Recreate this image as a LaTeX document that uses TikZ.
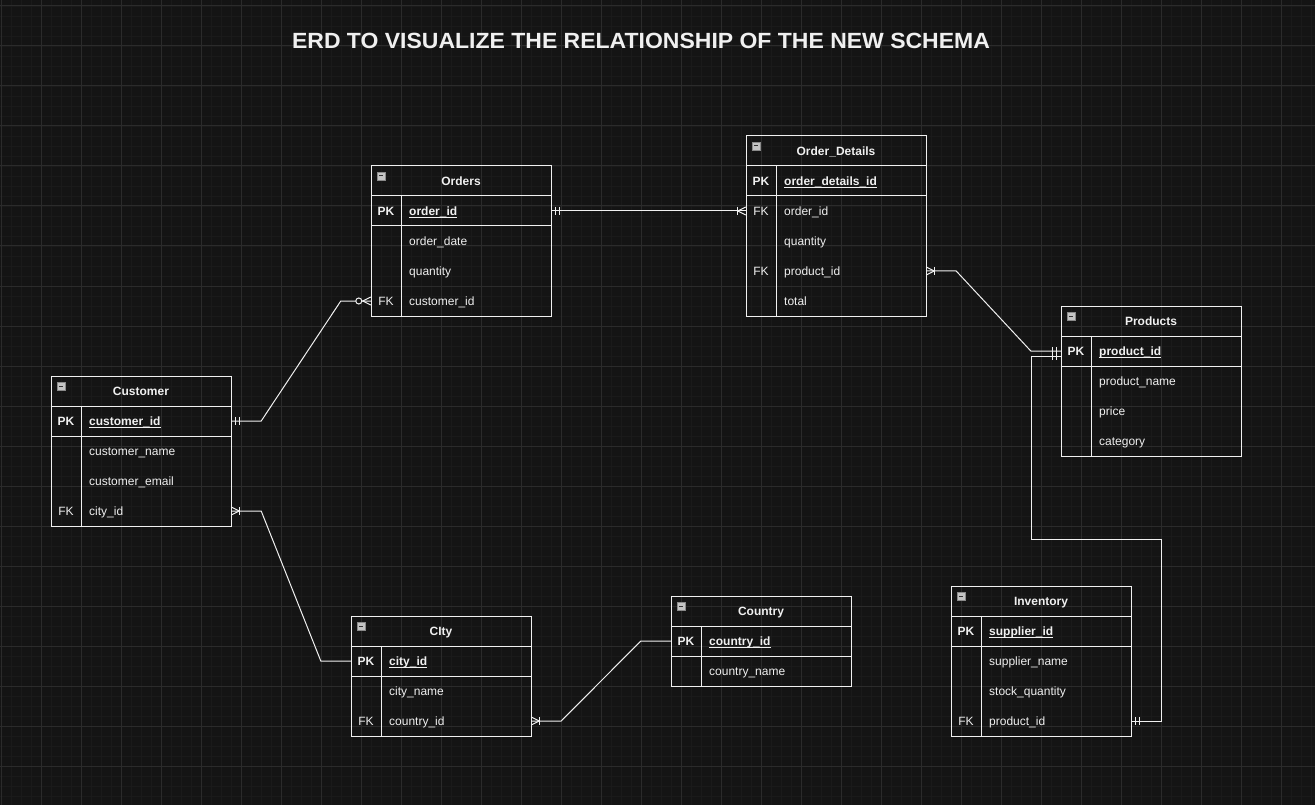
\documentclass[tikz,border=0pt]{standalone}
\usepackage{fontspec}
\setmainfont{Liberation Sans}
\definecolor{bg}{HTML}{141414}
\definecolor{gminor}{HTML}{1A1A1A}
\definecolor{gmajor}{HTML}{2B2B2B}
\definecolor{ink}{HTML}{F0F0F0}
\definecolor{iconfill}{HTML}{C4C4C4}
\definecolor{iconedge}{HTML}{8A8A8A}
\definecolor{icondark}{HTML}{333333}
\newcommand\ulx[1]{\setbox0\hbox{#1}\rlap{\rule[-2.3pt]{\wd0}{0.9pt}}\box0}
\tikzset{
  frame/.style={draw=ink, line width=1pt},
  conn/.style={draw=ink, line width=1pt},
  gmin/.style={draw=gminor, line width=0.8pt},
  gmaj/.style={draw=gmajor, line width=1pt},
  hdr/.style={text=ink, font=\fontsize{12pt}{14pt}\selectfont\bfseries, inner sep=0pt},
  keyt/.style={text=ink, font=\fontsize{12pt}{14pt}\selectfont, inner sep=0pt},
  fieldt/.style={text=ink, font=\fontsize{12pt}{14pt}\selectfont, inner sep=0pt},
  rowbox/.style={minimum width=180pt, minimum height=30pt, inner sep=0pt, draw=none},
  iconbox/.style={draw=iconedge, fill=iconfill, line width=0.6pt},
  iconbar/.style={draw=icondark, line width=1pt},
  titlet/.style={text=ink, font=\fontsize{22pt}{26pt}\selectfont\bfseries, inner sep=0pt, xscale=1.045},
}
\newcommand\erframe[3]{%
  \draw[frame] (#1,#2) rectangle (#1+180,#2+30+30*#3);
  \draw[frame] (#1,#2+30) -- (#1+180,#2+30);
  \draw[frame] (#1,#2+60) -- (#1+180,#2+60);
  \draw[frame] (#1+30,#2+30) -- (#1+30,#2+30+30*#3);
}
\newcommand\erhead[4]{%
  \node[hdr, anchor=base] (#1) at (#2+90,#3+19.5) {#4};
  \draw[iconbox] (#2+6,#3+6) rectangle (#2+14,#3+14);
  \draw[iconbar] (#2+8,#3+10) -- (#2+12,#3+10);
}
\newcommand\errow[5]{%
  \node[rowbox] (#1) at (#2+90,#3+15) {};
  \node[keyt, anchor=base] (#1k) at (#2+15,#3+19.5) {#4};
  \node[fieldt, anchor=base west] (#1f) at (#2+38,#3+19.5) {#5};
}
\newcommand\mone[2]{%
  \draw[conn] ([xshift=#2*4pt,yshift=4pt]#1) -- ([xshift=#2*4pt,yshift=-4pt]#1);
  \draw[conn] ([xshift=#2*8pt,yshift=4pt]#1) -- ([xshift=#2*8pt,yshift=-4pt]#1);
}
\newcommand\onemany[2]{%
  \draw[conn] ([yshift=4pt]#1) -- ([xshift=#2*8pt]#1) -- ([yshift=-4pt]#1);
  \draw[conn] ([xshift=#2*8pt,yshift=4pt]#1) -- ([xshift=#2*8pt,yshift=-4pt]#1);
}
\newcommand\zeromany[2]{%
  \draw[conn] ([yshift=4pt]#1) -- ([xshift=#2*8pt]#1) -- ([yshift=-4pt]#1);
  \draw[conn, fill=bg] ([xshift=#2*12pt]#1) circle (3pt);
}
\begin{document}
\begin{tikzpicture}[x=1pt,y=-1pt]
\fill[bg] (0,0) rectangle (1315,805);
\useasboundingbox (0,0) rectangle (1315,805);
% grid
\foreach \i in {0,...,131} {\draw[gmin] (1+\i*10,0) -- (1+\i*10,805);}
\foreach \j in {0,...,79} {\draw[gmin] (0,6+\j*10) -- (1315,6+\j*10);}
\foreach \i in {0,...,32} {\draw[gmaj] (1+\i*40,0) -- (1+\i*40,805);}
\foreach \j in {0,...,19} {\draw[gmaj] (0,6+\j*40) -- (1315,6+\j*40);}
% title
\node[titlet] (ttl) at (641,41) {ERD TO VISUALIZE THE RELATIONSHIP OF THE NEW SCHEMA};
% Orders
\erframe{371}{166}{4}
\erhead{ord}{371}{166}{Orders}
\errow{ordpk}{371}{196}{\bfseries PK}{\ulx{\bfseries order\_id}}
\errow{orddate}{371}{226}{}{order\_date}
\errow{ordqty}{371}{256}{}{quantity}
\errow{ordfk}{371}{286}{FK}{customer\_id}
% Order_Details
\erframe{746}{136}{5}
\erhead{od}{746}{136}{Order\_Details}
\errow{odpk}{746}{166}{\bfseries PK}{\ulx{\bfseries order\_details\_id}}
\errow{odofk}{746}{196}{FK}{order\_id}
\errow{odqty}{746}{226}{}{quantity}
\errow{odprod}{746}{256}{FK}{product\_id}
\errow{odtot}{746}{286}{}{total}
% Products
\erframe{1061}{306}{4}
\erhead{prod}{1061}{306}{Products}
\errow{prodpk}{1061}{336}{\bfseries PK}{\ulx{\bfseries product\_id}}
\errow{prodname}{1061}{366}{}{product\_name}
\errow{prodprice}{1061}{396}{}{price}
\errow{prodcat}{1061}{426}{}{category}
% Customer
\erframe{51}{376}{4}
\erhead{cust}{51}{376}{Customer}
\errow{custpk}{51}{406}{\bfseries PK}{\ulx{\bfseries customer\_id}}
\errow{custname}{51}{436}{}{customer\_name}
\errow{custmail}{51}{466}{}{customer\_email}
\errow{custcity}{51}{496}{FK}{city\_id}
% City
\erframe{351}{616}{3}
\erhead{city}{351}{616}{CIty}
\errow{citypk}{351}{646}{\bfseries PK}{\ulx{\bfseries city\_id}}
\errow{cityname}{351}{676}{}{city\_name}
\errow{cityctry}{351}{706}{FK}{country\_id}
% Country
\erframe{671}{596}{2}
\erhead{ctry}{671}{596}{Country}
\errow{ctrypk}{671}{626}{\bfseries PK}{\ulx{\bfseries country\_id}}
\errow{ctryname}{671}{656}{}{country\_name}
% Inventory
\erframe{951}{586}{4}
\erhead{inv}{951}{586}{Inventory}
\errow{invpk}{951}{616}{\bfseries PK}{\ulx{\bfseries supplier\_id}}
\errow{invname}{951}{646}{}{supplier\_name}
\errow{invqty}{951}{676}{}{stock\_quantity}
\errow{invprod}{951}{706}{FK}{product\_id}
% connectors
\coordinate (prodin) at ([yshift=-5pt]prodpk.west);
\coordinate (invbend) at (1031,539);
\draw[conn] (custpk.east) -- ++(30,0) -- ([xshift=-30pt]ordfk.west) -- (ordfk.west);
\draw[conn] (ordpk.east) -- (odofk.west);
\draw[conn] (odprod.east) -- ++(30,0) -- ([xshift=-30pt]prodpk.west) -- (prodpk.west);
\draw[conn] (invprod.east) -- ++(30,0) |- (invbend) |- (prodin);
\draw[conn] (custcity.east) -- ++(30,0) -- ([xshift=-30pt]citypk.west) -- (citypk.west);
\draw[conn] (cityctry.east) -- ++(30,0) -- ([xshift=-30pt]ctrypk.west) -- (ctrypk.west);
% markers
\mone{custpk.east}{1}
\zeromany{ordfk.west}{-1}
\mone{ordpk.east}{1}
\onemany{odofk.west}{-1}
\onemany{odprod.east}{1}
\mone{prodpk.west}{-1}
\mone{prodin}{-1}
\mone{invprod.east}{1}
\onemany{custcity.east}{1}
\onemany{cityctry.east}{1}
\end{tikzpicture}
\end{document}
